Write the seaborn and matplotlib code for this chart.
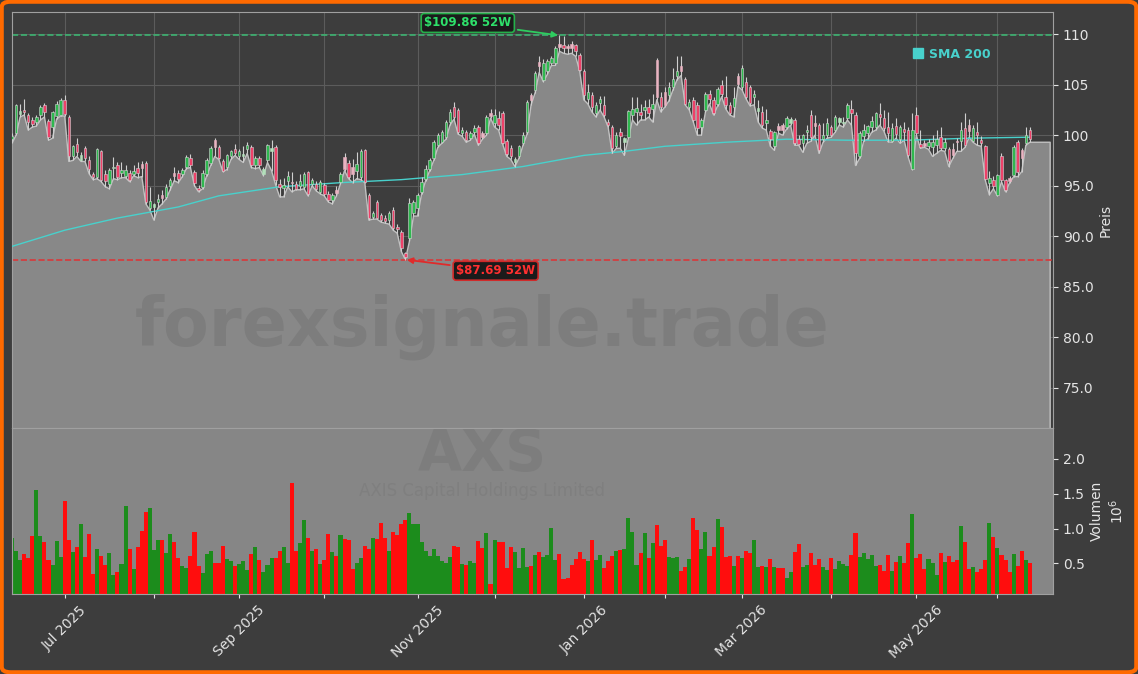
"""
AXS daily candles with SMA 200 and volume, dark dashboard style.
Run:  python plot.py  ->  out.png
"""

import numpy as np
import pandas as pd
import matplotlib
matplotlib.use("Agg")
import matplotlib.pyplot as plt
import seaborn as sns
from matplotlib.lines import Line2D
from matplotlib.patches import FancyBboxPatch
from matplotlib.ticker import FuncFormatter, MultipleLocator

sns.set_style("dark")
plt.rcParams["font.family"] = ["DejaVu Sans"]

# ---------------------------------------------------------------
# DATA (one value per trading day)
# ---------------------------------------------------------------
FIRST_DAY = "2025-06-11"
LAST_DAY = "2026-06-11"
HOLIDAYS = ["2025-06-19", "2025-07-04", "2025-09-01", "2025-11-27", "2025-12-25",
            "2026-01-01", "2026-01-19", "2026-02-16", "2026-04-03", "2026-05-25"]

OPEN = [
    99.6, 100.2, 102.1, 102.5, 102.0, 101.5, 101.3, 102.0, 103.0, 101.4,
    100.8, 101.9, 102.0, 103.5, 101.8, 97.9, 99.1, 97.5, 98.7, 97.5,
    96.2, 95.9, 98.4, 96.2, 95.2, 96.8, 97.0, 96.3, 96.0, 96.3,
    96.2, 96.8, 97.1, 97.2, 92.8, 92.9, 93.4, 94.1, 93.9, 95.0,
    96.3, 96.3, 96.15, 96.9, 97.7, 96.4, 94.8, 94.9, 96.2, 97.2,
    99.5, 98.8, 97.4, 96.9, 97.9, 98.6, 97.9, 97.9, 98.6, 98.85,
    97.0, 97.7, 96.2, 97.5, 98.4, 98.85, 95.2, 94.8, 95.5, 95.4,
    95.2, 95.0, 94.9, 96.4, 95.2, 95.2, 94.4, 95.1, 94.2, 93.6,
    94.6, 95.4, 97.8, 97.2, 96.9, 96.5, 95.9, 98.5, 94.1, 91.9,
    93.4, 92.1, 91.8, 91.6, 92.6, 90.9, 90.45, 88.3, 89.8, 92.3,
    92.8, 94.4, 95.7, 96.7, 97.7, 99.0, 99.35, 99.85, 101.3, 102.8,
    102.5, 100.2, 100.3, 99.7, 100.3, 100.8, 100.2, 100.2, 102.2, 101.2,
    101.7, 102.2, 99.4, 98.7, 97.3, 97.9, 99.2, 100.3, 104.0, 104.5,
    107.2, 105.5, 106.3, 107.1, 107.1, 109.0, 108.9, 108.8, 109.0, 108.9,
    107.9, 106.3, 103.6, 104.0, 102.2, 103.2, 103.0, 101.3, 100.8, 98.95,
    100.3, 99.3, 99.85, 102.0, 102.3, 102.3, 102.5, 102.8, 102.6, 107.4,
    103.8, 104.3, 104.0, 104.8, 105.9, 106.8, 105.6, 102.8, 103.5, 103.0,
    100.8, 102.5, 104.1, 103.5, 103.1, 104.95, 103.8, 103.0, 102.8, 105.85,
    104.8, 105.3, 104.8, 103.8, 102.4, 102.3, 101.2, 100.4, 98.9, 100.9,
    101.0, 100.8, 101.2, 101.5, 99.6, 99.2, 100.3, 102.0, 101.2, 101.0,
    99.6, 100.0, 100.8, 100.5, 101.3, 101.2, 101.7, 102.6, 102.0, 97.9,
    99.9, 100.2, 100.8, 100.8, 102.1, 101.7, 100.8, 99.4, 100.9, 99.6,
    100.6, 100.5, 96.7, 101.99, 99.1, 99.2, 98.9, 98.85, 99.0, 99.85,
    98.7, 98.6, 98.6, 99.4, 99.4, 100.7, 101.0, 99.4, 100.3, 99.5,
    98.9, 95.3, 95.6, 94.1, 97.9, 95.6, 95.8, 96.05, 99.35, 98.5,
    99.25, 100.5,
]
HIGH = [
    100.2, 103.1, 103.1, 103.6, 102.2, 101.8, 102.0, 103.0, 103.2, 101.6,
    102.4, 103.4, 103.7, 104.0, 102.0, 99.0, 99.7, 98.3, 98.9, 97.9,
    96.4, 98.7, 98.5, 96.6, 96.8, 97.8, 97.3, 97.3, 97.0, 96.6,
    97.0, 97.3, 97.4, 97.4, 94.9, 93.3, 94.2, 94.6, 95.2, 95.8,
    96.9, 96.6, 96.8, 98.0, 98.1, 96.6, 95.1, 96.6, 97.7, 98.9,
    99.7, 99.0, 97.6, 98.1, 98.5, 99.1, 98.6, 98.9, 99.3, 99.0,
    97.9, 97.9, 96.9, 99.1, 99.5, 99.0, 95.7, 95.8, 96.5, 96.4,
    95.5, 96.2, 96.4, 96.5, 95.8, 95.5, 95.6, 95.3, 94.5, 94.3,
    95.0, 96.4, 98.2, 97.5, 97.6, 98.3, 98.6, 98.6, 94.3, 92.5,
    93.6, 92.3, 92.1, 92.5, 92.9, 91.2, 90.6, 88.4, 93.8, 93.6,
    94.3, 95.9, 97.0, 97.7, 99.5, 100.2, 100.5, 101.5, 102.6, 103.3,
    102.7, 100.8, 100.5, 100.4, 101.0, 101.0, 100.4, 102.0, 102.6, 102.6,
    102.4, 102.4, 99.6, 99.0, 97.8, 99.0, 100.3, 103.5, 104.2, 106.3,
    107.8, 107.5, 107.5, 107.8, 108.8, 109.86, 109.8, 109.0, 109.3, 109.0,
    108.1, 106.5, 105.1, 104.3, 103.3, 103.9, 103.9, 101.6, 101.0, 100.3,
    100.7, 99.8, 102.5, 103.8, 103.8, 103.1, 103.5, 103.6, 104.1, 107.6,
    104.3, 104.8, 105.3, 106.6, 107.8, 107.8, 105.8, 103.6, 103.8, 103.3,
    101.7, 104.3, 104.5, 103.8, 104.8, 105.5, 105.9, 103.3, 104.8, 106.1,
    106.9, 105.8, 105.0, 104.5, 103.5, 102.9, 102.6, 100.6, 100.4, 101.2,
    101.2, 101.9, 101.8, 101.7, 100.0, 100.1, 101.0, 102.5, 102.0, 101.2,
    101.2, 101.7, 101.0, 102.0, 101.8, 101.8, 103.2, 103.5, 102.3, 100.4,
    101.1, 101.0, 101.9, 102.3, 103.2, 102.5, 102.3, 101.2, 101.7, 101.0,
    101.3, 100.8, 102.2, 102.8, 100.5, 99.5, 99.6, 100.0, 100.5, 100.8,
    99.7, 98.8, 99.2, 99.7, 101.3, 102.2, 101.6, 101.0, 101.3, 99.9,
    99.0, 96.5, 96.0, 96.2, 98.2, 95.7, 96.0, 99.0, 99.5, 98.7,
    100.8, 100.8,
]
LOW = [
    99.2, 100.0, 101.8, 102.0, 100.5, 100.8, 100.9, 101.5, 101.8, 99.5,
    99.7, 101.6, 101.9, 101.9, 97.4, 97.5, 97.9, 97.4, 97.4, 96.2,
    95.6, 95.7, 95.4, 94.9, 94.7, 95.7, 95.6, 95.8, 95.8, 95.4,
    96.0, 95.8, 95.9, 93.2, 92.6, 91.6, 92.8, 93.2, 93.7, 94.6,
    95.5, 95.3, 95.9, 96.7, 96.8, 95.0, 94.4, 94.7, 96.0, 97.0,
    97.9, 97.6, 96.4, 96.6, 97.6, 98.0, 97.6, 97.3, 98.2, 96.8,
    96.7, 96.8, 96.0, 97.3, 96.5, 95.1, 93.9, 93.9, 94.9, 94.4,
    94.6, 94.6, 94.7, 94.0, 95.0, 94.5, 94.2, 94.0, 93.4, 93.2,
    94.0, 95.2, 96.5, 95.7, 95.3, 95.7, 95.6, 95.3, 91.6, 91.7,
    91.7, 91.4, 91.3, 91.2, 90.6, 90.3, 88.5, 87.69, 89.5, 92.0,
    92.0, 94.2, 95.5, 96.5, 97.5, 98.8, 99.2, 99.6, 101.0, 101.6,
    100.1, 99.9, 99.3, 99.5, 100.1, 99.0, 99.6, 100.0, 101.7, 100.8,
    100.5, 99.1, 97.9, 97.6, 96.9, 97.7, 99.0, 100.1, 103.0, 104.2,
    106.2, 105.3, 106.0, 106.9, 106.9, 108.3, 108.1, 108.0, 108.1, 107.8,
    106.3, 103.5, 103.1, 102.3, 101.8, 102.5, 101.8, 100.8, 98.2, 98.7,
    98.7, 98.0, 99.7, 101.5, 101.0, 101.5, 101.5, 101.8, 101.3, 103.5,
    102.3, 102.8, 103.4, 104.5, 105.5, 105.9, 103.0, 102.5, 101.3, 100.0,
    100.0, 102.3, 103.1, 102.0, 102.9, 103.8, 102.6, 102.0, 101.8, 104.8,
    104.5, 103.6, 102.9, 103.0, 101.3, 100.7, 100.5, 98.9, 98.5, 100.2,
    100.0, 100.6, 101.0, 99.0, 99.0, 98.3, 99.2, 99.4, 100.0, 98.2,
    99.3, 99.7, 99.8, 100.3, 101.0, 100.8, 101.5, 101.0, 97.0, 97.7,
    99.4, 99.6, 100.3, 100.5, 101.0, 100.4, 99.35, 99.3, 99.7, 99.2,
    99.5, 97.8, 96.6, 100.0, 98.7, 98.8, 98.6, 97.9, 98.2, 98.5,
    98.4, 96.9, 97.7, 98.4, 98.4, 98.8, 99.8, 99.3, 99.0, 98.9,
    95.55, 94.1, 94.7, 94.0, 95.4, 94.4, 95.3, 95.9, 95.9, 96.4,
    99.0, 99.3,
]
CLOSE = [
    99.9, 103.0, 102.4, 102.3, 101.3, 101.1, 101.8, 102.8, 102.3, 99.8,
    102.3, 103.1, 103.5, 102.1, 97.9, 98.9, 98.3, 98.0, 97.7, 96.7,
    95.9, 98.6, 95.6, 95.5, 96.6, 96.9, 95.9, 96.6, 96.6, 95.6,
    96.5, 96.3, 96.8, 93.4, 93.5, 93.2, 93.7, 93.8, 94.9, 95.6,
    96.0, 95.7, 96.6, 97.8, 97.0, 95.3, 94.6, 96.3, 97.5, 98.7,
    98.8, 97.7, 96.5, 98.0, 98.4, 98.2, 98.4, 98.1, 99.0, 97.0,
    97.7, 97.0, 96.7, 99.0, 98.7, 95.55, 94.9, 95.1, 96.0, 95.3,
    94.7, 95.5, 96.2, 94.2, 95.6, 94.7, 95.4, 94.2, 93.6, 94.1,
    94.3, 96.2, 96.7, 95.9, 96.2, 97.1, 98.4, 95.4, 91.8, 92.3,
    91.8, 91.6, 91.5, 92.3, 90.8, 90.7, 88.8, 88.0, 93.3, 93.4,
    94.1, 95.4, 96.7, 97.5, 99.35, 100.0, 100.3, 101.3, 102.3, 101.8,
    100.3, 100.5, 99.5, 100.2, 100.7, 99.2, 99.8, 101.8, 101.9, 102.0,
    101.0, 99.2, 98.1, 97.9, 97.6, 98.9, 100.0, 103.3, 103.5, 106.1,
    106.8, 107.1, 107.3, 107.6, 108.6, 108.75, 108.6, 108.6, 108.65, 108.3,
    106.4, 104.0, 104.3, 102.8, 103.0, 103.6, 102.0, 101.0, 98.7, 100.0,
    99.95, 99.7, 102.4, 102.6, 102.65, 102.0, 102.8, 102.15, 103.1, 103.8,
    102.8, 103.0, 104.8, 105.6, 106.3, 106.3, 103.1, 103.3, 101.5, 100.7,
    101.5, 104.1, 103.6, 102.2, 104.6, 104.07, 103.0, 102.2, 103.7, 105.1,
    106.6, 103.8, 103.2, 104.1, 102.65, 101.0, 101.5, 99.6, 100.3, 100.5,
    100.5, 101.7, 101.6, 99.2, 99.1, 100.0, 100.5, 99.85, 100.9, 98.5,
    100.0, 101.2, 100.0, 101.8, 101.66, 101.3, 103.0, 102.2, 98.2, 100.2,
    100.5, 100.9, 101.4, 102.2, 101.8, 100.7, 100.2, 100.7, 100.1, 100.8,
    100.3, 98.0, 100.5, 100.2, 98.85, 98.9, 99.3, 99.35, 99.6, 98.7,
    99.35, 97.4, 98.0, 99.3, 100.5, 99.0, 100.4, 100.7, 100.0, 99.2,
    95.7, 95.8, 95.0, 96.05, 95.6, 94.6, 95.5, 98.85, 96.4, 97.7,
    100.0, 99.6,
]
# volume in millions of shares
VOLUME = [
    0.87, 0.68, 0.55, 0.64, 0.58, 0.89, 1.56, 0.90, 0.81, 0.55,
    0.48, 0.82, 0.59, 1.40, 0.84, 0.67, 0.73, 1.06, 0.60, 0.92,
    0.35, 0.71, 0.61, 0.48, 0.65, 0.33, 0.38, 0.49, 1.33, 0.71,
    0.42, 0.73, 0.97, 1.24, 1.29, 0.69, 0.84, 0.84, 0.65, 0.92,
    0.81, 0.58, 0.46, 0.44, 0.61, 0.95, 0.46, 0.37, 0.64, 0.68,
    0.51, 0.50, 0.75, 0.57, 0.54, 0.47, 0.49, 0.54, 0.40, 0.63,
    0.74, 0.55, 0.38, 0.48, 0.58, 0.58, 0.68, 0.74, 0.51, 1.65,
    0.68, 0.80, 1.12, 0.87, 0.68, 0.71, 0.49, 0.55, 0.92, 0.66,
    0.61, 0.91, 0.85, 0.84, 0.42, 0.51, 0.58, 0.75, 0.71, 0.86,
    0.85, 1.08, 0.86, 0.68, 0.95, 0.91, 1.07, 1.12, 1.23, 1.07,
    1.06, 0.81, 0.68, 0.61, 0.71, 0.61, 0.54, 0.51, 0.59, 0.75,
    0.74, 0.49, 0.48, 0.53, 0.51, 0.82, 0.72, 0.94, 0.21, 0.84,
    0.81, 0.81, 0.44, 0.74, 0.66, 0.44, 0.72, 0.45, 0.46, 0.62,
    0.66, 0.60, 0.62, 1.01, 0.55, 0.64, 0.28, 0.29, 0.48, 0.56,
    0.66, 0.56, 0.53, 0.84, 0.55, 0.62, 0.44, 0.53, 0.61, 0.68,
    0.69, 0.71, 1.15, 0.95, 0.48, 0.65, 0.94, 0.58, 0.79, 1.05,
    0.75, 0.84, 0.59, 0.58, 0.59, 0.39, 0.45, 0.56, 1.15, 0.98,
    0.71, 0.95, 0.61, 0.74, 1.14, 1.02, 0.59, 0.61, 0.46, 0.61,
    0.58, 0.68, 0.65, 0.84, 0.45, 0.46, 0.45, 0.56, 0.45, 0.44,
    0.44, 0.29, 0.38, 0.66, 0.78, 0.45, 0.48, 0.65, 0.48, 0.56,
    0.45, 0.41, 0.58, 0.42, 0.53, 0.49, 0.46, 0.62, 0.94, 0.59,
    0.65, 0.56, 0.62, 0.46, 0.48, 0.39, 0.62, 0.39, 0.52, 0.61,
    0.51, 0.79, 1.21, 0.58, 0.64, 0.42, 0.56, 0.51, 0.34, 0.65,
    0.52, 0.61, 0.52, 0.55, 1.04, 0.81, 0.42, 0.45, 0.38, 0.42,
    0.55, 1.08, 0.88, 0.72, 0.62, 0.55, 0.38, 0.64, 0.46, 0.68,
    0.55, 0.51,
]
# 200-day simple moving average, read at a few trading-day positions
SMA_DAY = [0, 13, 26, 41, 51, 66, 81, 96, 111, 126, 141, 151, 161, 176, 191, 206, 221, 236, 251]
SMA_VALUE = [89.0, 90.6, 91.8, 92.9, 94.0, 94.9, 95.3, 95.6, 96.1, 96.9,
             98.0, 98.4, 98.9, 99.3, 99.6, 99.5, 99.5, 99.7, 99.8]

LABELED_MONTHS = ["Jul 2025", "Sep 2025", "Nov 2025", "Jan 2026", "Mar 2026", "May 2026"]
TICKER = "AXS"
COMPANY = "AXIS Capital Holdings Limited"
WATERMARK = "forexsignale.trade"

# ---------------------------------------------------------------
# PREP
# ---------------------------------------------------------------
dates = pd.bdate_range(FIRST_DAY, LAST_DAY)
dates = dates[~dates.isin(pd.to_datetime(HOLIDAYS))]
o, h, l, c, v = (np.array(a, dtype=float) for a in (OPEN, HIGH, LOW, CLOSE, VOLUME))
assert len(dates) == len(o) == len(h) == len(l) == len(c) == len(v)
x = np.arange(len(dates))

up = c >= o
prev_close = np.r_[o[0], c[:-1]]
strong = up == (c >= prev_close)

# first trading day of every month (skip the partial first month)
month_first = pd.Series(x, index=dates).groupby(dates.to_period("M")).first().iloc[1:]
tick_pos = month_first.values
tick_lab = [p.strftime("%b %Y") if p.strftime("%b %Y") in LABELED_MONTHS else ""
            for p in month_first.index]

hi_idx, lo_idx = int(np.argmax(h)), int(np.argmin(l))

# ---------------------------------------------------------------
# STYLE
# ---------------------------------------------------------------
BG = "#3d3d3d"
PANEL = "#868686"
TXT = "#e4e4e4"
SPINE = "#a0a0a0"
W, H = 1138, 674

fig = plt.figure(figsize=(W / 100, H / 100), dpi=100, facecolor=BG)
ax = fig.add_axes([12 / W, 1 - 428 / H, 1041 / W, 416 / H], facecolor=BG)
axv = fig.add_axes([12 / W, 1 - 594 / H, 1041 / W, 166 / H], facecolor=PANEL, sharex=ax)

# ---------------------------------------------------------------
# PRICE PANEL
# ---------------------------------------------------------------
area_x = np.append(x, x[-1] + 5)
area_y = np.append(l, l[-1])
ax.fill_between(area_x, area_y, 0, facecolor="#888888", edgecolor="#c2c2c2",
                linewidth=1.0, zorder=1)
ax.text(0.4515, 0.243, WATERMARK, transform=ax.transAxes, ha="center", va="center",
        fontsize=48, fontweight="bold", color="#7d7d7d", zorder=1.5)

ax.axhline(h[hi_idx], color="#3cb371", ls="--", lw=1.2, zorder=2)
ax.axhline(l[lo_idx], color="#d9383a", ls="--", lw=1.2, zorder=2)

sns.lineplot(x=SMA_DAY, y=SMA_VALUE, ax=ax, color="#48d1cc", linewidth=1.0,
             zorder=2.6, legend=False)

body_col = np.where(up, np.where(strong, "#2fb84f", "#b2dfba"),
                    np.where(strong, "#ee4169", "#e9b3c1"))
edge_col = np.where(strong, "#d6d6d6", body_col)
ax.vlines(x, l, h, color="#cfcfcf", linewidth=0.8, zorder=3)
ax.bar(x, np.maximum(np.abs(c - o), 0.08), bottom=np.minimum(o, c), width=0.62,
       color=body_col, edgecolor=edge_col, linewidth=0.4, zorder=4)

ax.annotate(f"${h[hi_idx]:.2f} 52W", xy=(hi_idx, h[hi_idx]), xytext=(-66, 9),
            textcoords="offset points", ha="center", va="center", fontsize=8.5,
            fontweight="bold", color="#2ee06a", zorder=6,
            bbox=dict(boxstyle="round,pad=0.25", fc="#1b1b1b", ec="#25b04a", lw=1.2),
            arrowprops=dict(arrowstyle="-|>", color="#2ecc5f", lw=1.3, shrinkB=1))
ax.annotate(f"${l[lo_idx]:.2f} 52W", xy=(lo_idx, l[lo_idx]), xytext=(65, -8),
            textcoords="offset points", ha="center", va="center", fontsize=8.5,
            fontweight="bold", color="#ff3030", zorder=6,
            bbox=dict(boxstyle="round,pad=0.25", fc="#1b1b1b", ec="#d02a2a", lw=1.2),
            arrowprops=dict(arrowstyle="-|>", color="#e02a2a", lw=1.3, shrinkB=1))

sma_handle = Line2D([], [], marker="s", ls="none", color="#48d1cc", markersize=7)
ax.legend([sma_handle], ["SMA 200"], loc="center left",
          bbox_to_anchor=((908 - 12) / 1041, (428 - 54) / 416), frameon=False,
          labelcolor="#48d1cc", prop={"weight": "bold", "size": 9},
          handlelength=0.8, handletextpad=0.5, borderaxespad=0)

ax.set_xlim(0, 256.7)
ax.set_ylim(71.04, 112.18)
ax.yaxis.set_major_locator(MultipleLocator(5))
ax.yaxis.set_major_formatter(FuncFormatter(lambda val, _: f"{val:.0f}" if val >= 100 else f"{val:.1f}"))
ax.yaxis.tick_right()
ax.yaxis.set_label_position("right")
ax.set_ylabel("Preis", color=TXT, fontsize=10)
ax.set_xticks(tick_pos)
ax.tick_params(axis="x", bottom=False, labelbottom=False)
ax.tick_params(axis="y", colors=TXT, labelsize=10, length=3.5, width=0.8,
               right=True, left=False)
ax.grid(True, color="#5c5c5c", linewidth=0.8)

# ---------------------------------------------------------------
# VOLUME PANEL
# ---------------------------------------------------------------
axv.text(0.4515, 0.837, TICKER, transform=axv.transAxes, ha="center", va="center",
         fontsize=41, fontweight="bold", color="#7d7d7d", zorder=1)
axv.text(0.4515, 0.62, COMPANY, transform=axv.transAxes, ha="center", va="center",
         fontsize=12, color="#7f7f7f", zorder=1)
axv.bar(x, v, width=1.0, color=np.where(up, "#1c8c1c", "#ff0d0d"), linewidth=0, zorder=2)
axv.set_ylim(0.062, 2.445)
axv.yaxis.set_major_locator(MultipleLocator(0.5))
axv.yaxis.set_major_formatter(FuncFormatter(lambda val, _: f"{val:.1f}"))
axv.yaxis.tick_right()
axv.yaxis.set_label_position("right")
axv.set_ylabel("Volumen\n$10^{6}$", color=TXT, fontsize=10)
axv.tick_params(axis="y", colors=TXT, labelsize=10, length=3.5, width=0.8,
                right=True, left=False)
axv.set_xticks(tick_pos)
axv.set_xticklabels(tick_lab)
axv.tick_params(axis="x", colors=TXT, labelsize=10, labelrotation=45, length=3,
                width=0.8, bottom=True)
axv.grid(False)

for a in (ax, axv):
    for s in a.spines.values():
        s.set_color(SPINE)
        s.set_linewidth(0.8)

# orange frame around the whole card
fig.add_artist(FancyBboxPatch((0.0015, 0.0025), 0.997, 0.995,
                              boxstyle="round,pad=0,rounding_size=0.008",
                              transform=fig.transFigure, fill=False,
                              edgecolor="#ff6a00", linewidth=3, zorder=10))

fig.savefig("out.png", dpi=100, facecolor=fig.get_facecolor())
plt.close(fig)
